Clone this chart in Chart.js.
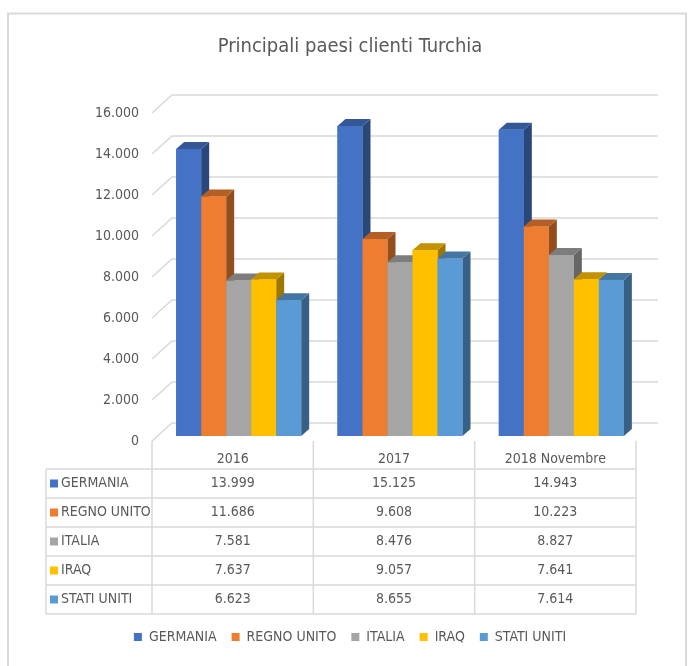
<!DOCTYPE html>
<html>
<head>
<meta charset="utf-8">
<title>Principali paesi clienti Turchia</title>
<script src="https://cdn.jsdelivr.net/npm/chart.js@4.4.1/dist/chart.umd.min.js"></script>
<style>
  html, body { margin: 0; padding: 0; background: #fff; }
  canvas { display: block; }
</style>
</head>
<body>
<canvas id="grafico" width="688" height="666"></canvas>
<script>
// Dati (migliaia di USD)
const anni = ['2016', '2017', '2018 Novembre'];
const paesi = ['GERMANIA', 'REGNO UNITO', 'ITALIA', 'IRAQ', 'STATI UNITI'];
const germania = [13999, 15125, 14943];
const regnoUnito = [11686, 9608, 10223];
const italia = [7581, 8476, 8827];
const iraq = [7637, 9057, 7641];
const statiUniti = [6623, 8655, 7614];
const yMin = 0;
const yMax = 16000;
const yPasso = 2000;

const colori = ['#4472C4', '#ED7D31', '#A5A5A5', '#FFC000', '#5B9BD5'];
const FONT = "'Liberation Sans Narrow', 'Arial Narrow', 'DejaVu Sans Condensed', 'Roboto', sans-serif";
const GRIGIO_TESTO = '#595959';
const GRIGIO_LINEE = '#d9d9d9';

// Profondità 3D
const SHIFT = 6;          // spostamento del piano delle barre rispetto al fronte
const BAR_DX = 8, BAR_DY = 7;
const PAV_DX = 20, PAV_DY = 18;

function formatta(n) {
    return String(n).replace(/\B(?=(\d{3})+(?!\d))/g, '.');
}

function scurisci(hex, f) {
    const n = parseInt(hex.slice(1), 16);
    const r = Math.round(((n >> 16) & 255) * f);
    const g = Math.round(((n >> 8) & 255) * f);
    const b = Math.round((n & 255) * f);
    return 'rgb(' + r + ',' + g + ',' + b + ')';
}

function poligono(ctx, punti) {
    ctx.beginPath();
    ctx.moveTo(punti[0][0], punti[0][1]);
    for (let i = 1; i < punti.length; i++) ctx.lineTo(punti[i][0], punti[i][1]);
    ctx.closePath();
    ctx.fill();
}

// Sfondo e bordo esterno
const cornice = {
    id: 'cornice',
    beforeDraw(chart) {
        const ctx = chart.ctx;
        ctx.save();
        ctx.fillStyle = '#fff';
        ctx.fillRect(0, 0, chart.width, chart.height);
        ctx.strokeStyle = GRIGIO_LINEE;
        ctx.lineWidth = 2;
        ctx.strokeRect(8, 13.5, 678, 700);
        ctx.restore();
    }
};

// Griglia in prospettiva + barre con facce laterali
const barre3d = {
    id: 'barre3d',
    beforeDatasetsDraw(chart) {
        const ctx = chart.ctx;
        const yScale = chart.scales.y;
        const area = chart.chartArea;
        const xf = area.left - SHIFT;
        const xr = area.right - SHIFT;
        ctx.save();
        ctx.strokeStyle = GRIGIO_LINEE;
        ctx.lineWidth = 1.5;
        yScale.ticks.forEach(t => {
            const yb = yScale.getPixelForValue(t.value);
            const yFront = yb + 5;
            const yBack = yFront - PAV_DY;
            ctx.beginPath();
            ctx.moveTo(xf, yFront);
            ctx.lineTo(xf + PAV_DX, yBack);
            ctx.lineTo(xr + PAV_DX + 2, yBack);
            ctx.stroke();
        });
        ctx.restore();
    },
    afterDatasetsDraw(chart) {
        const ctx = chart.ctx;
        ctx.save();
        for (let c = 0; c < anni.length; c++) {
            chart.data.datasets.forEach((ds, i) => {
                const bar = chart.getDatasetMeta(i).data[c];
                const p = bar.getProps(['x', 'y', 'base', 'width'], true);
                const l = p.x - p.width / 2;
                const r = p.x + p.width / 2;
                ctx.fillStyle = scurisci(ds.backgroundColor, 0.62);
                poligono(ctx, [[r, p.y], [r + BAR_DX, p.y - BAR_DY], [r + BAR_DX, p.base - BAR_DY], [r, p.base]]);
                ctx.fillStyle = scurisci(ds.backgroundColor, 0.76);
                poligono(ctx, [[l, p.y], [l + BAR_DX, p.y - BAR_DY], [r + BAR_DX, p.y - BAR_DY], [r, p.y]]);
                ctx.fillStyle = ds.backgroundColor;
                ctx.fillRect(l, p.y, p.width, p.base - p.y);
            });
        }
        ctx.restore();
    }
};

// Tabella dati sotto il grafico
const tabella = {
    id: 'tabella',
    afterDraw(chart) {
        const ctx = chart.ctx;
        const xScale = chart.scales.x;
        const area = chart.chartArea;
        const banda = (area.right - area.left) / anni.length;
        const bordi = [];
        for (let c = 0; c < anni.length; c++) {
            bordi.push(xScale.getPixelForValue(c) - banda / 2 - SHIFT);
        }
        bordi.push(xScale.getPixelForValue(anni.length - 1) + banda / 2 - SHIFT);

        const x0 = 46;
        const top = area.bottom + 5;
        const intest = 28;
        const riga = 29;
        const righeTop = top + intest;
        const fondo = righeTop + paesi.length * riga;

        ctx.save();
        ctx.strokeStyle = GRIGIO_LINEE;
        ctx.lineWidth = 1.5;
        ctx.beginPath();
        bordi.forEach(x => {
            ctx.moveTo(x, top);
            ctx.lineTo(x, fondo);
        });
        ctx.moveTo(x0, righeTop);
        ctx.lineTo(x0, fondo);
        for (let r = 0; r <= paesi.length; r++) {
            ctx.moveTo(x0, righeTop + r * riga);
            ctx.lineTo(bordi[bordi.length - 1], righeTop + r * riga);
        }
        ctx.stroke();

        ctx.font = '14px ' + FONT;
        ctx.textBaseline = 'middle';
        chart.data.datasets.forEach((ds, i) => {
            const yc = righeTop + i * riga + riga / 2;
            ctx.fillStyle = ds.backgroundColor;
            ctx.fillRect(x0 + 4, yc - 4, 8, 8);
            ctx.fillStyle = GRIGIO_TESTO;
            ctx.textAlign = 'left';
            ctx.fillText(ds.label, x0 + 15, yc);
            ctx.textAlign = 'center';
            ds.data.forEach((v, c) => {
                ctx.fillText(formatta(v), (bordi[c] + bordi[c + 1]) / 2, yc);
            });
        });
        ctx.restore();
    }
};

const serie = [germania, regnoUnito, italia, iraq, statiUniti];

new Chart(document.getElementById('grafico'), {
    type: 'bar',
    data: {
        labels: anni,
        datasets: paesi.map((nome, i) => ({
            label: nome,
            data: serie[i],
            backgroundColor: colori[i],
            borderWidth: 0,
            categoryPercentage: 0.775,
            barPercentage: 1
        }))
    },
    options: {
        responsive: false,
        animation: false,
        devicePixelRatio: 1,
        layout: {
            padding: { left: 58, right: 46, top: 0, bottom: 12 }
        },
        scales: {
            x: {
                grid: { display: false, drawTicks: false },
                border: { display: false },
                ticks: {
                    color: GRIGIO_TESTO,
                    font: { family: FONT, size: 14 },
                    padding: 15,
                    labelOffset: -SHIFT,
                    maxRotation: 0
                },
                afterFit(scale) { scale.height = 179; }
            },
            y: {
                min: yMin,
                max: yMax,
                grid: { display: false, drawTicks: false },
                border: { display: false },
                ticks: {
                    stepSize: yPasso,
                    color: GRIGIO_TESTO,
                    font: { family: FONT, size: 14 },
                    padding: 19,
                    labelOffset: 5,
                    callback: v => formatta(v)
                },
                afterFit(scale) { scale.width = 100; }
            }
        },
        plugins: {
            title: {
                display: true,
                text: 'Principali paesi clienti Turchia',
                color: GRIGIO_TESTO,
                font: { family: FONT, size: 20, weight: 'normal' },
                padding: { top: 35, bottom: 49 }
            },
            legend: {
                position: 'bottom',
                labels: {
                    color: GRIGIO_TESTO,
                    font: { family: FONT, size: 14 },
                    boxWidth: 8,
                    boxHeight: 8,
                    padding: 15
                }
            },
            tooltip: { enabled: false }
        }
    },
    plugins: [cornice, barre3d, tabella]
});
</script>
</body>
</html>
